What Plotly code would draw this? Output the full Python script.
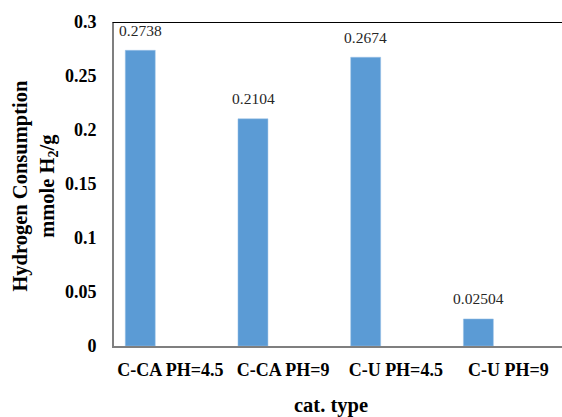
import plotly.graph_objects as go

categories = ["C-CA PH=4.5", "C-CA PH=9", "C-U PH=4.5", "C-U PH=9"]
values = [0.2738, 0.2104, 0.2674, 0.02504]
value_labels = ["0.2738", "0.2104", "0.2674", "0.02504"]
y_tickvals = [0, 0.05, 0.1, 0.15, 0.2, 0.25, 0.3]
y_ticktext = ["0", "0.05", "0.1", "0.15", "0.2", "0.25", "0.3"]

FONT = "Liberation Serif"
W, H = 562, 417
ML, MR, MT, MB = 114, 0, 22, 71

fig = go.Figure()
fig.add_trace(go.Bar(
    x=categories, y=values,
    width=0.266, offset=-0.4,
    marker=dict(color="#5B9BD5", line=dict(color="#9DC3E6", width=0.5)),
    hoverinfo="skip",
))

annotations = []
for c, v, t in zip(categories, values, value_labels):
    annotations.append(dict(
        x=c, y=v, xref="x", yref="y", text=t, showarrow=False,
        xshift=-30, yshift=20, xanchor="center", yanchor="middle",
        font=dict(family=FONT, size=15.5, color="#262626"),
    ))

# y-axis title
annotations.append(dict(
    x=(35 - ML) / (W - ML - MR), y=0.495, xref="paper", yref="paper",
    text="Hydrogen Consumption<br>mmole H<sub>2</sub>/g",
    showarrow=False, textangle=-90, xanchor="center", yanchor="middle",
    font=dict(family=FONT, size=20.5, color="#000000", weight="bold"),
))
# x-axis title
annotations.append(dict(
    x=(331 - ML) / (W - ML - MR), y=-(392 - 346) / (346 - 22), xref="paper", yref="paper",
    text="cat. type", showarrow=False, xanchor="center", yanchor="top",
    font=dict(family=FONT, size=20.5, color="#000000", weight="bold"),
))

fig.update_layout(
    width=W, height=H,
    margin=dict(l=ML, r=MR, t=MT, b=MB),
    paper_bgcolor="white", plot_bgcolor="white",
    showlegend=False,
    annotations=annotations,
    shapes=[dict(type="line", xref="paper", yref="y", x0=-0.003, x1=1, y0=0.3, y1=0.3,
                 line=dict(color="#000000", width=2))],
    xaxis=dict(
        range=[-0.5, 3.475], showgrid=False, zeroline=False,
        showline=True, linecolor="#7F7F7F", linewidth=2, ticks="",
        tickfont=dict(family=FONT, size=18, color="#000000", weight="bold"),
        ticklabelstandoff=6,
    ),
    yaxis=dict(
        range=[0, 0.3], showgrid=False, zeroline=False,
        showline=True, linecolor="#7F7F7F", linewidth=2, ticks="",
        tickvals=y_tickvals, ticktext=y_ticktext,
        tickfont=dict(family=FONT, size=18, color="#000000", weight="bold"),
        ticklabelstandoff=12,
    ),
)

fig.write_html("out.html")
